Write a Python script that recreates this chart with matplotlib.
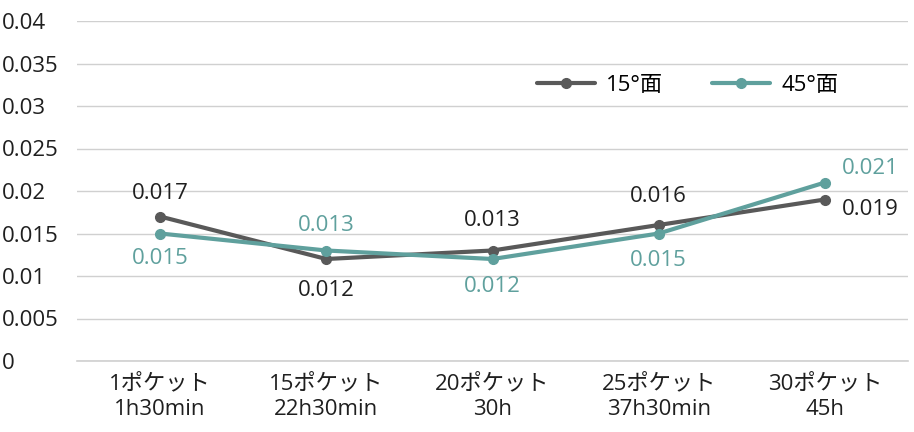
import matplotlib.pyplot as plt

plt.rcParams['font.family'] = ['Open Sans', 'Noto Sans CJK JP', 'DejaVu Sans']

categories = ["1ポケット\n1h30min", "15ポケット\n22h30min", "20ポケット\n30h",
              "25ポケット\n37h30min", "30ポケット\n45h"]
face15 = [0.017, 0.012, 0.013, 0.016, 0.019]
face45 = [0.015, 0.013, 0.012, 0.015, 0.021]
yticks = [0, 0.005, 0.01, 0.015, 0.02, 0.025, 0.03, 0.035, 0.04]
ytick_labels = ["0", "0.005", "0.01", "0.015", "0.02", "0.025", "0.03", "0.035", "0.04"]

# label offsets (pixels) for each point
off15 = [(0, 23), (0, -32), (0, 30), (0, 28), (45, -10)]
off45 = [(0, -25), (0, 25), (0, -27), (0, -27), (45, 14)]

c15 = "#595959"
c45 = "#5fa09d"
txt = "#1f1f1f"
fs = 16

fig = plt.figure(figsize=(9.14, 4.32), dpi=100)
ax = fig.add_axes([77 / 914, 1 - 361 / 432, 831 / 914, 340 / 432])

x = range(len(categories))
ax.plot(x, face15, color=c15, lw=3, marker="o", ms=7, label="15°面", solid_capstyle="round")
ax.plot(x, face45, color=c45, lw=3, marker="o", ms=7, label="45°面", solid_capstyle="round")

for i in x:
    ax.annotate(f"{face15[i]:.3f}", (i, face15[i]), xytext=(off15[i][0] * 0.72, off15[i][1] * 0.72),
                textcoords="offset points", ha="center", va="center", fontsize=fs, color=txt)
    ax.annotate(f"{face45[i]:.3f}", (i, face45[i]), xytext=(off45[i][0] * 0.72, off45[i][1] * 0.72),
                textcoords="offset points", ha="center", va="center", fontsize=fs, color=c45)

ax.set_xlim(-0.5, 4.5)
ax.set_ylim(0, 0.04)
ax.set_xticks(list(x))
ax.set_xticklabels(categories, fontsize=fs, color=txt, linespacing=1.3)
ax.set_yticks(yticks)
ax.set_yticklabels(ytick_labels, fontsize=fs, color=txt, ha="left")
ax.tick_params(axis="y", length=0, pad=54)
ax.tick_params(axis="x", length=0, pad=9)
ax.grid(axis="y", color="#d0d0d0", lw=1)
ax.axhline(0, color="#d0d0d0", lw=1.2, clip_on=False, zorder=0)
ax.set_axisbelow(True)
for s in ax.spines.values():
    s.set_visible(False)

ax.legend(loc="center", bbox_to_anchor=(0.735, 0.81), ncol=2, frameon=False, fontsize=fs,
          handlelength=2.6, columnspacing=2.2, handletextpad=0.5)

fig.savefig("out.png", dpi=100)
